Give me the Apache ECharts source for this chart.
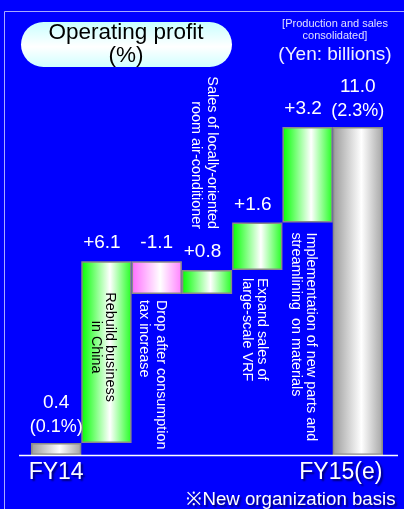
<!DOCTYPE html>
<html><head><meta charset="utf-8">
<script src="https://cdn.jsdelivr.net/npm/echarts@6/dist/echarts.min.js"></script>
<style>html,body{margin:0;padding:0;background:#0000ff;}#c{width:404px;height:509px;}</style>
</head><body><div id="c"></div>
<script>
// ---- data ----
const categories = ['FY14', 'Rebuild business in China', 'Drop after consumption tax increase',
  'Sales of locally-oriented room air-conditioner', 'Expand sales of large-scale VRF',
  'Implementation of new parts and streamlining on materials', 'FY15(e)'];
const startValue = 0.4;
const endValue = 11.0;
const deltas = [6.1, -1.1, 0.8, 1.6, 3.2];
const startShare = '(0.1%)';
const endShare = '(2.3%)';
const annotations = ['', 'Rebuild business\nin China', 'Drop after consumption\ntax increase',
  'Sales of locally-oriented\nroom air-conditioner', 'Expand sales of\nlarge-scale VRF',
  'Implementation of new parts and\nstreamlining  on materials', ''];
const titleText = 'Operating profit\n(%)';
const noteText = '[Production and sales\nconsolidated]';
const unitText = '(Yen: billions)';
const footText = '※New organization basis';

// ---- derived waterfall pieces ----
const base = [0], height = [startValue];
let cum = startValue;
deltas.forEach(d => { const nx = +(cum + d).toFixed(2); base.push(Math.min(cum, nx)); height.push(Math.abs(d)); cum = nx; });
base.push(0); height.push(endValue);
const last = categories.length - 1;

const FONT = '"Liberation Sans", Arial, sans-serif';
const grad = (c1, c2) => new echarts.graphic.LinearGradient(0, 0, 1, 0, [
  {offset: 0, color: c1}, {offset: 0.57, color: '#ffffff'}, {offset: 1, color: c2}]);
const gray = () => grad('#9a9a9a', '#a4a4a4');
const green = () => grad('#00ff00', '#22ff22');
const pink = () => grad('#ff6cff', '#ff80ff');

const barData = height.map((h, i) => {
  let color;
  if (i === 0 || i === last) color = gray();
  else color = deltas[i - 1] >= 0 ? green() : pink();
  return {value: h, itemStyle: {color}, label: {distance: (i === 0 || i === last) ? 4 : 7}};
});

const chart = echarts.init(document.getElementById('c'), null, {renderer: 'canvas'});
chart.setOption({
  backgroundColor: '#0000ff',
  animation: false,
  grid: {left: 31, right: 21, top: 37.5, bottom: 54},
  xAxis: {
    type: 'category', data: categories,
    axisLine: {show: false}, axisTick: {show: false},
    axisLabel: {
      interval: 0, margin: 6,
      formatter: (v, i) => i === 0 ? '{n|' + v + '}' : (i === last ? '{r|' + v + '}' : ''),
      rich: {
        n: {fontSize: 23, color: '#fff', fontFamily: FONT, textShadowColor: 'rgba(0,0,0,0.55)', textShadowOffsetX: 2, textShadowOffsetY: 2, textShadowBlur: 2},
        r: {fontSize: 23, color: '#fff', fontFamily: FONT, padding: [0, 34, 0, 0], textShadowColor: 'rgba(0,0,0,0.55)', textShadowOffsetX: 2, textShadowOffsetY: 2, textShadowBlur: 2}
      }
    }
  },
  yAxis: {type: 'value', min: 0, max: 14, show: false, splitLine: {show: false}},
  series: [
    {type: 'bar', stack: 'w', data: base, itemStyle: {color: 'transparent'}, barCategoryGap: 0, silent: true},
    {type: 'bar', stack: 'w', data: barData, barCategoryGap: 0,
      itemStyle: {borderColor: '#8a8a8a', borderWidth: 1.5},
      label: {
        show: true, position: 'top', color: '#fff', fontFamily: FONT,
        formatter: p => {
          const i = p.dataIndex;
          if (i === 0) return '{v|' + startValue.toFixed(1) + '}\n{p|' + startShare + '}';
          if (i === last) return '{v|' + endValue.toFixed(1) + '}\n{p|' + endShare + '}';
          const d = deltas[i - 1];
          return d >= 0 ? '{d|+' + d.toFixed(1) + '}' : '{m|' + d.toFixed(1) + '}';
        },
        rich: {
          v: {fontSize: 19, lineHeight: 24, color: '#fff', fontFamily: FONT},
          p: {fontSize: 18, lineHeight: 24, color: '#fff', fontFamily: FONT},
          d: {fontSize: 19, lineHeight: 22, color: '#fff', fontFamily: FONT, padding: [0, 9, 0, 0]},
          m: {fontSize: 19, lineHeight: 22, color: '#fff', fontFamily: FONT}
        }
      }
    }
  ]
});

const px = (i, v) => chart.convertToPixel({gridIndex: 0}, [i, v]);
const y0 = px(0, 0)[1];
const g = [];
g.push({type: 'rect', shape: {x: 4.5, y: 11.5, width: 440, height: 540}, style: {fill: 'none', stroke: '#a8a8ff', lineWidth: 1}, z: 0});
g.push({type: 'rect', shape: {x: 21, y: 22, width: 211, height: 45, r: 22.5},
  style: {fill: new echarts.graphic.LinearGradient(0, 0, 0, 1, [{offset: 0, color: '#c8ffff'}, {offset: 0.55, color: '#ffffff'}, {offset: 1, color: '#d0ffff'}])}, z: 10});
g.push({type: 'text', x: 126, y: 44.5, style: {text: titleText, font: '22.5px ' + FONT, fill: '#000', align: 'center', verticalAlign: 'middle', lineHeight: 23}, z: 11});
g.push({type: 'text', x: 335, y: 30, style: {text: noteText, font: '11px ' + FONT, fill: '#e0e0ff', align: 'center', verticalAlign: 'middle', lineHeight: 12.5}, z: 11});
g.push({type: 'text', x: 335, y: 55, style: {text: unitText, font: '19px ' + FONT, fill: '#f0f0ff', align: 'center', verticalAlign: 'middle'}, z: 11});
g.push({type: 'line', shape: {x1: 19, y1: y0 + 0.5, x2: 398, y2: y0 + 0.5}, style: {stroke: '#ffffff', lineWidth: 1.5}, z: 12});
g.push({type: 'text', x: 291, y: 500, style: {text: footText, font: '18.7px ' + FONT, fill: '#ffffff', align: 'center', verticalAlign: 'middle',
  textShadowColor: 'rgba(0,0,0,0.6)', textShadowOffsetX: 2, textShadowOffsetY: 2, textShadowBlur: 2}, z: 11});

// vertical annotations
const rot = -Math.PI / 2;
function ann(i, dx, yPix, align, fill, lh) {
  const cx = px(i, 0)[0];
  g.push({type: 'text', x: cx + dx, y: yPix, rotation: rot,
    style: {text: annotations[i], font: '14.4px ' + FONT, fill, align, verticalAlign: 'middle', lineHeight: lh}, z: 13});
}
const topPix = i => px(i, base[i] + height[i])[1];
const botPix = i => px(i, base[i])[1];
ann(1, -3.5, (topPix(1) + botPix(1)) / 2 - 5, 'center', '#000', 14);
ann(2, -4, botPix(2) + 6, 'left', '#fff', 16.5);
ann(3, -3, topPix(3) - 41, 'right', '#fff', 16.5);
ann(4, -3, botPix(4) + 8, 'left', '#fff', 15.5);
ann(5, -4, botPix(5) + 10, 'left', '#fff', 15.5);
chart.setOption({graphic: g});
</script>
</body></html>
